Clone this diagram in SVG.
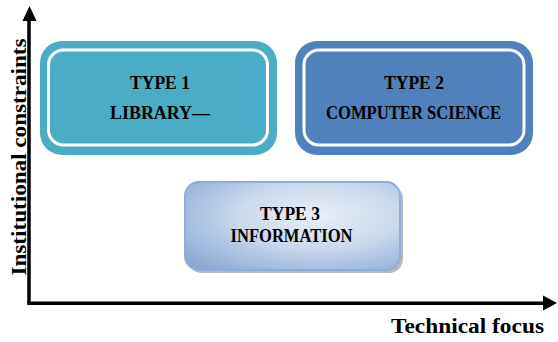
<svg xmlns="http://www.w3.org/2000/svg" width="558" height="342" viewBox="0 0 558 342">
<style>
.t{font-family:"Liberation Serif","Times New Roman",serif;font-weight:bold;fill:#000;text-anchor:middle}
.b{font-size:19px}
.ax{stroke:#000;stroke-width:3.5;fill:none}
.ring{fill:none;stroke:#fff;stroke-width:3}
</style>
<defs>
<radialGradient id="g3" cx="0.62" cy="0.38" r="0.8">
<stop offset="0" stop-color="#E8EEF7"/>
<stop offset="0.45" stop-color="#CCDAEC"/>
<stop offset="1" stop-color="#8AA8D5"/>
</radialGradient>
</defs>
<g id="connectors">
<line class="ax" x1="29" y1="20" x2="29" y2="303.5"/>
<polygon points="22.5,21 29.5,6 36.5,21" fill="#000"/>
<line class="ax" x1="27.3" y1="303.3" x2="544" y2="303.3"/>
<polygon points="543,295.5 557,303 543,310.5" fill="#000"/>
</g>
<g id="type1">
<rect x="40" y="41" width="237" height="114" rx="22" fill="#4BACC6"/>
<rect class="ring" x="48.5" y="50" width="219" height="95" rx="15"/>
<text class="t b" x="160" y="89" textLength="60" lengthAdjust="spacingAndGlyphs">TYPE 1</text>
<text class="t b" x="160" y="119" textLength="100" lengthAdjust="spacingAndGlyphs">LIBRARY—</text>
</g>
<g id="type2">
<rect x="295" y="41" width="238" height="114" rx="22" fill="#4F81BD"/>
<rect class="ring" x="304" y="50" width="220" height="95" rx="15"/>
<text class="t b" x="414" y="89" textLength="60" lengthAdjust="spacingAndGlyphs">TYPE 2</text>
<text class="t b" x="413.5" y="119" textLength="175" lengthAdjust="spacingAndGlyphs">COMPUTER SCIENCE</text>
</g>
<g id="type3">
<rect x="188" y="185" width="215" height="88" rx="14" fill="#7F7F7F" opacity="0.55"/>
<rect x="185" y="182" width="215" height="88" rx="14" fill="url(#g3)" stroke="#8EADD8" stroke-width="2"/>
<text class="t b" x="290" y="220" textLength="60" lengthAdjust="spacingAndGlyphs">TYPE 3</text>
<text class="t b" x="291.5" y="242" textLength="122" lengthAdjust="spacingAndGlyphs">INFORMATION</text>
</g>
<g id="labels">
<text class="t" transform="translate(26,157) rotate(-90)" x="0" y="0" font-size="21" textLength="237" lengthAdjust="spacingAndGlyphs">Institutional constraints</text>
<text class="t" x="467.5" y="333" font-size="21" textLength="153" lengthAdjust="spacingAndGlyphs">Technical focus</text>
</g>
</svg>
